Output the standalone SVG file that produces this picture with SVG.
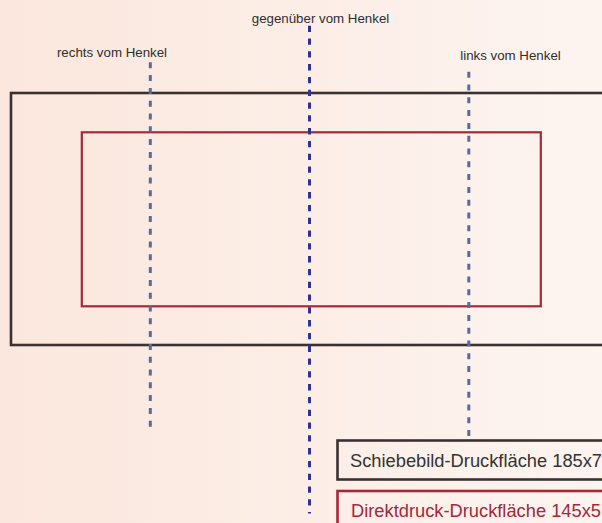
<svg xmlns="http://www.w3.org/2000/svg" width="602" height="523" viewBox="0 0 602 523">
<defs>
<linearGradient id="bg" x1="0" y1="0" x2="1" y2="0">
<stop offset="0" stop-color="#fbe7dd"/>
<stop offset="1" stop-color="#fdf4f0"/>
</linearGradient>
<style>
.lbl{font-family:"Liberation Sans",Arial,sans-serif;font-size:13.3px;fill:#2e2e2e}
.big{font-family:"Liberation Sans",Arial,sans-serif;font-size:18.3px}
.dashA{stroke:#5a6a9c;stroke-width:3;stroke-dasharray:6 6.8;fill:none}
.dashB{stroke:#2d3492;stroke-width:3;stroke-dasharray:6.3 6.5;fill:none}
</style>
</defs>
<rect x="0" y="0" width="602" height="523" fill="url(#bg)"/>
<g id="outer-area"><rect x="11" y="93" width="620" height="252" fill="none" stroke="#3a3232" stroke-width="2.6"/></g>
<g id="inner-area"><rect x="81.8" y="132.3" width="459" height="174" fill="none" stroke="#a3283a" stroke-width="2.2"/></g>
<g id="connectors">
<line class="dashA" x1="150.3" y1="62.3" x2="150.3" y2="428"/>
<line class="dashB" x1="309.5" y1="25.7" x2="309.5" y2="513.5"/>
<line class="dashA" x1="468.8" y1="71.7" x2="468.8" y2="437.5"/>
</g>
<g id="label-center"><text class="lbl" x="320.5" y="22.5" text-anchor="middle">gegenüber vom Henkel</text></g>
<g id="label-right"><text class="lbl" x="112" y="57" text-anchor="middle">rechts vom Henkel</text></g>
<g id="label-left"><text class="lbl" x="510.5" y="59.5" text-anchor="middle">links vom Henkel</text></g>
<g id="legend-schiebebild">
<rect x="337.5" y="440.5" width="300" height="39" fill="none" stroke="#3a3232" stroke-width="2.6"/>
<text class="big" x="350" y="466.7" fill="#333333">Schiebebild-Druckfläche 185x7</text>
</g>
<g id="legend-direktdruck">
<rect x="337.5" y="491" width="300" height="40" fill="none" stroke="#a3283a" stroke-width="2.6"/>
<text class="big" x="351" y="516.7" fill="#a3283a">Direktdruck-Druckfläche 145x5</text>
</g>
</svg>
